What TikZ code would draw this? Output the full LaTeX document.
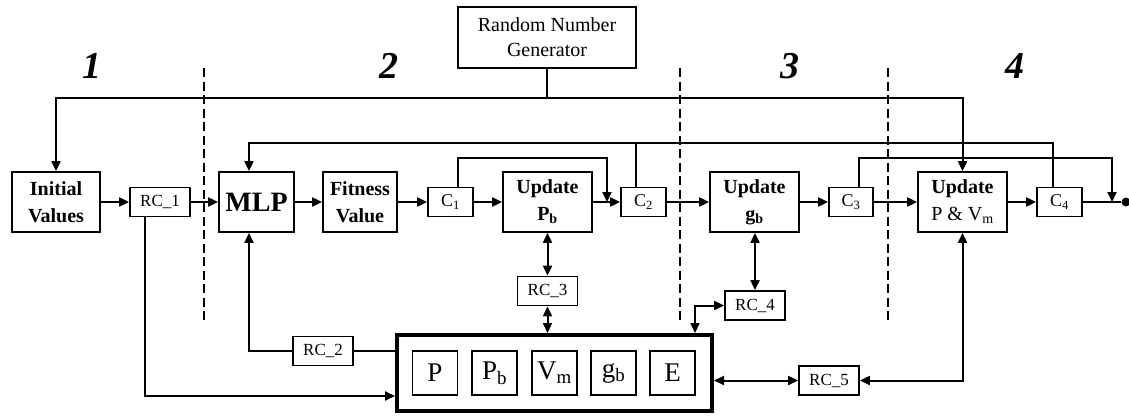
\documentclass[tikz,border=0pt]{standalone}
\usepackage{fontspec}
\setmainfont{Liberation Serif}
\usetikzlibrary{arrows.meta,calc}
\begin{document}
\begin{tikzpicture}[x=1pt,y=1pt,
  line width=2pt,
  arr/.style={-{Triangle[length=10pt,width=9pt]}},
  darr/.style={{Triangle[length=10pt,width=9pt]}-{Triangle[length=10pt,width=9pt]}},
  box/.style={draw,line width=1.8pt,inner sep=0pt,align=center},
  bigbox/.style={box,minimum width=89pt,minimum height=60pt,font=\fontsize{20}{27}\selectfont\bfseries},
  rcbox/.style={box,minimum width=60pt,minimum height=29pt,font=\fontsize{17}{17}\selectfont},
  cbox/.style={box,minimum width=45pt,minimum height=29pt,font=\fontsize{18}{18}\selectfont},
  cell/.style={box,minimum width=45pt,minimum height=44pt,font=\fontsize{27}{27}\selectfont},
  stage/.style={font=\fontsize{38}{38}\selectfont\bfseries\itshape},
  divider/.style={line width=2.8pt,dash pattern=on 9pt off 4.5pt}
]
\useasboundingbox (0,0) rectangle (1129,416);

% stage numbers and dividers
\node[stage] (n1) at (92,350) {1};
\node[stage] (n2) at (389,350) {2};
\node[stage] (n3) at (790,350) {3};
\node[stage] (n4) at (1015,350) {4};
\draw[divider] (204,348) -- (204,94);
\draw[divider] (680,348) -- (680,94);
\draw[divider] (888,348) -- (888,94);

% main chain
\node[bigbox,minimum width=88pt] (init) at (56,214) {Initial\\Values};
\node[rcbox] (rc1) at (160,214) {RC\_1};
\node[bigbox,minimum width=75pt,font=\fontsize{28}{28}\selectfont\bfseries] (mlp) at (256.5,214) {MLP};
\node[bigbox,minimum width=74pt] (fit) at (360,214) {Fitness\\Value};
\node[cbox] (c1) at (450.5,214) {C\textsubscript{1}};
\node[bigbox] (upb) at (547.5,214) {Update\\P\textsubscript{b}};
\node[cbox] (c2) at (643.5,214) {C\textsubscript{2}};
\node[bigbox] (ugb) at (754.5,214) {Update\\g\textsubscript{b}};
\node[cbox,minimum width=44pt] (c3) at (851,214) {C\textsubscript{3}};
\node[bigbox] (upv) at (962.5,214) {Update\\\mdseries P \& V\textsubscript{m}};
\node[cbox] (c4) at (1059.5,214) {C\textsubscript{4}};
\node[circle,fill,inner sep=0pt,minimum size=9pt] (end) at (1126,214) {};

% random number generator
\node[box,minimum width=178pt,minimum height=61pt,font=\fontsize{20}{25}\selectfont] (rng) at (547,378.5) {Random Number\\Generator};

% memory block
\node[draw,line width=4pt,minimum width=315pt,minimum height=76pt,inner sep=0pt] (mem) at (554.5,43) {};
\node[cell] (mp) at (435,43) {P};
\node[cell] (mpb) at (494.5,43) {P\textsubscript{b}};
\node[cell] (mvm) at (554.5,43) {V\textsubscript{m}};
\node[cell] (mgb) at (613.5,43) {g\textsubscript{b}};
\node[cell] (me) at (672.5,43) {E};

% read/write controllers
\node[rcbox] (rc2) at (323,65) {RC\_2};
\node[rcbox] (rc3) at (547.5,125) {RC\_3};
\node[rcbox] (rc4) at (755,110.5) {RC\_4};
\node[rcbox] (rc5) at (829,35.5) {RC\_5};

% main flow
\draw[arr] (init) -- (rc1);
\draw[arr] (rc1) -- (mlp);
\draw[arr] (mlp) -- (fit);
\draw[arr] (fit) -- (c1);
\draw[arr] (c1) -- (upb);
\draw[arr] (upb) -- (c2);
\draw[arr] (c2) -- (ugb);
\draw[arr] (ugb) -- (c3);
\draw[arr] (c3) -- (upv);
\draw[arr] (upv) -- (c4);
\draw (c4) -- (end);

% random numbers distribution
\coordinate (hub) at (547,318);
\draw (rng.south) -- (hub);
\draw[arr] (hub) -| (init.north);
\draw[arr] (hub) -| (upv.north);

% feedback to MLP
\coordinate (fb) at (249,273);
\coordinate (c4t) at ([xshift=-6.5pt]c4.north);
\coordinate (c2t) at ([xshift=-7.5pt]c2.north);
\draw[arr] (c4t) |- (fb) -- (fb |- mlp.north);
\draw (c2t) -- (c2t |- fb);

% bypass loops
\coordinate (c1t) at ([xshift=7.5pt]c1.north);
\coordinate (l1) at (607,258.5);
\coordinate (j1) at (607,214);
\draw[arr] (c1t) |- (l1) -- (j1);
\coordinate (c3t) at ([xshift=8pt]c3.north);
\coordinate (l2) at (1112,258.5);
\coordinate (j2) at (1112,214);
\draw[arr] (c3t) |- (l2) -- (j2);

% memory access
\draw[arr] ([xshift=-15pt]rc1.south) |- ([yshift=-23pt]mem.west);
\draw[arr] (rc2.west) -| ([xshift=-7.5pt]mlp.south);
\draw (rc2.east) -- (rc2.east -| mem.west);
\draw[darr] (rc3.north |- upb.south) -- (rc3.north);
\draw[darr] (rc3.south) -- (rc3.south |- mem.north);
\draw[darr] (rc4.north |- ugb.south) -- (rc4.north);
\draw[darr] (rc4.west) -| ([xshift=140.5pt]mem.north);
\draw[darr] (mem.east |- rc5.west) -- (rc5.west);
\draw[darr] (rc5.east) -| (upv.south);
\end{tikzpicture}
\end{document}
